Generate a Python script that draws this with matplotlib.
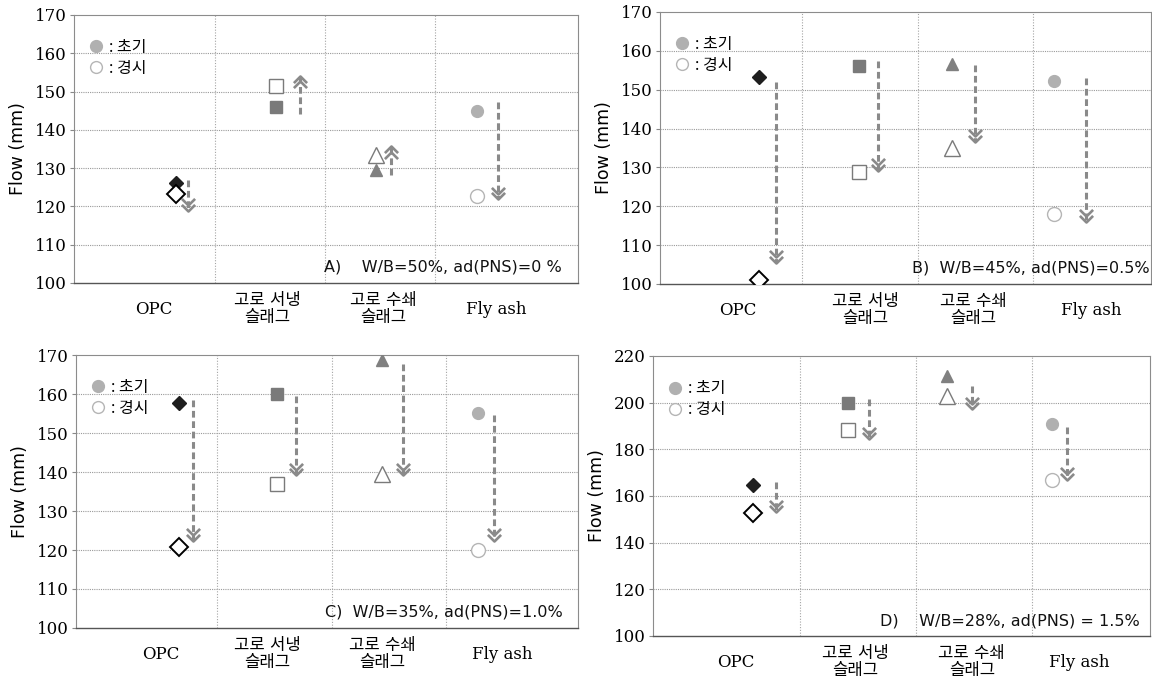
import matplotlib
matplotlib.use("Agg")
import matplotlib.pyplot as plt
import matplotlib.transforms as mtransforms
from matplotlib.path import Path
from matplotlib.lines import Line2D

# ---- data ----
categories = ['OPC', '고로 서냉\n슬래그', '고로 수쇄\n슬래그', 'Fly ash']
legend_labels = [': 초기', ': 경시']

initial_A = [126.0, 146.0, 129.6, 144.8]
elapsed_A = [123.2, 151.5, 133.5, 122.6]
arrow_from_A = [127.0, 144.2, 128.3, 147.2]
arrow_to_A = [118.9, 154.1, 135.7, 121.9]

initial_B = [153.2, 156.1, 156.6, 152.2]
elapsed_B = [100.9, 128.8, 135.0, 118.1]
arrow_from_B = [152.0, 157.3, 156.4, 153.0]
arrow_to_B = [105.5, 129.2, 136.6, 116.0]

initial_C = [157.8, 160.1, 168.7, 155.1]
elapsed_C = [120.8, 136.9, 139.4, 120.0]
arrow_from_C = [158.6, 159.5, 167.7, 154.6]
arrow_to_C = [122.3, 139.2, 139.2, 122.3]

initial_D = [164.8, 199.8, 211.4, 190.8]
elapsed_D = [152.6, 188.3, 203.0, 167.0]
arrow_from_D = [166.2, 201.6, 207.3, 189.7]
arrow_to_D = [153.0, 184.3, 197.2, 167.0]

conditions = ['A)    W/B=50%, ad(PNS)=0 %',
              'B)  W/B=45%, ad(PNS)=0.5%',
              'C)  W/B=35%, ad(PNS)=1.0%',
              'D)    W/B=28%, ad(PNS) = 1.5%']
y_ranges = [(100, 170, 10), (100, 170, 10), (100, 170, 10), (100, 220, 20)]

# ---- layout ----
rects = [[0.0642, 0.5863, 0.4375, 0.3918],
         [0.5729, 0.5848, 0.4262, 0.3977],
         [0.0660, 0.0819, 0.4358, 0.3990],
         [0.5668, 0.0702, 0.4314, 0.4094]]
xlims = [(0.227, 4.79), (0.27, 4.52), (0.27, 4.65), (0.24, 4.51)]
marker_xs = [[1.15, 2.06, 2.96, 3.88], [1.13, 1.99, 2.80, 3.68],
             [1.17, 2.02, 2.94, 3.78], [1.10, 1.92, 2.77, 3.67]]
arrow_xs = [[1.26, 2.27, 3.10, 4.07], [1.27, 2.16, 3.00, 3.96],
            [1.29, 2.19, 3.12, 3.92], [1.30, 2.10, 2.98, 3.80]]
tick_xs = [[0.95, 1.98, 3.03, 4.05], [0.94, 2.05, 2.98, 4.00],
           [1.01, 1.94, 2.94, 3.99], [0.95, 1.98, 2.98, 3.90]]
text_pos = [(0.967, 0.061), (0.997, 0.06), (0.97, 0.06), (0.98, 0.053)]

markers = ['D', 's', '^', 'o']
fill_colors = ['#1e1e1e', '#7a7a7a', '#808080', '#b0b0b0']
edge_colors = ['#000000', '#7a7a7a', '#7a7a7a', '#b5b5b5']
fill_sizes = [7, 8, 8.5, 8.5]
open_sizes = [9, 10, 11, 10]
arrow_color = '#8a8a8a'

chev_down = Path([(-1, 1), (0, 0), (1, 1)], [Path.MOVETO, Path.LINETO, Path.LINETO])
chev_up = Path([(-1, -1), (0, 0), (1, -1)], [Path.MOVETO, Path.LINETO, Path.LINETO])

initials = [initial_A, initial_B, initial_C, initial_D]
elapseds = [elapsed_A, elapsed_B, elapsed_C, elapsed_D]
arrow_froms = [arrow_from_A, arrow_from_B, arrow_from_C, arrow_from_D]
arrow_tos = [arrow_to_A, arrow_to_B, arrow_to_C, arrow_to_D]

fig = plt.figure(figsize=(11.52, 6.84), dpi=100)
fig.patch.set_facecolor('white')

for p in range(4):
    ax = fig.add_axes(rects[p])
    lo, hi, step = y_ranges[p]
    ax.set_ylim(lo, hi)
    ax.set_xlim(*xlims[p])
    ax.set_yticks(range(lo, hi + 1, step))
    ax.set_xticks([])
    ax.tick_params(axis='y', length=3, color='#888888', pad=2)
    for lab in ax.get_yticklabels():
        lab.set_fontfamily('DejaVu Serif')
        lab.set_fontsize(12)
    for s in ax.spines.values():
        s.set_color('#8c8c8c')
        s.set_linewidth(0.8)
    ax.spines['bottom'].set_color('#555555')
    ax.spines['bottom'].set_linewidth(1.0)

    for yv in range(lo + step, hi, step):
        ax.axhline(yv, color='#9a9a9a', lw=0.8, ls=(0, (1, 1)), zorder=0)
    for xv in [1.5, 2.5, 3.5]:
        ax.axvline(xv, color='#a5a5a5', lw=0.8, ls=(0, (1, 1.5)), zorder=0)

    ax.set_ylabel('Flow (mm)', fontsize=12.5, fontfamily='DejaVu Sans', labelpad=6)

    for i in range(4):
        mx = marker_xs[p][i]
        ax.plot(mx, initials[p][i], marker=markers[i], ms=fill_sizes[i],
                mfc=fill_colors[i], mec=fill_colors[i], ls='none', zorder=4)
        ax.plot(mx, elapseds[p][i], marker=markers[i], ms=open_sizes[i],
                mfc='white', mec=edge_colors[i], mew=1.4 if i == 0 else 1.0,
                ls='none', zorder=4)
        # dashed arrow with double chevron head
        axx = arrow_xs[p][i]
        y0, y1 = arrow_froms[p][i], arrow_tos[p][i]
        ax.plot([axx, axx], [y0, y1], color=arrow_color, lw=2.2,
                ls=(0, (2.2, 1.2)), zorder=3)
        down = y1 < y0
        shape = chev_down if down else chev_up
        sign = 1 if down else -1
        for k in (0, 4):
            tr = mtransforms.offset_copy(ax.transData, fig=fig, y=sign * k, units='points')
            ax.plot(axx, y1, marker=shape, ms=9.5, mfc='none', mec=arrow_color,
                    mew=1.9, ls='none', transform=tr, zorder=3)

    for i in range(4):
        ax.annotate(categories[i], xy=(tick_xs[p][i], 0),
                    xycoords=ax.get_xaxis_transform(), xytext=(0, -19),
                    textcoords='offset points', ha='center', va='center',
                    fontsize=12, linespacing=1.0,
                    family=['DejaVu Serif', 'Noto Sans CJK KR'],
                    annotation_clip=False)

    handles = [Line2D([], [], marker='o', ls='none', ms=8.5, mfc='#b0b0b0', mec='#b0b0b0'),
               Line2D([], [], marker='o', ls='none', ms=8.5, mfc='white', mec='#b5b5b5')]
    ax.legend(handles, legend_labels, loc='upper left', bbox_to_anchor=(0.0, 0.965),
              frameon=False, handlelength=1.0, handletextpad=0.3, labelspacing=0.25,
              borderaxespad=0.5, prop={'family': 'Noto Sans CJK KR', 'size': 11.5})

    ax.text(text_pos[p][0], text_pos[p][1], conditions[p], transform=ax.transAxes,
            ha='right', va='center', fontsize=11.5, fontfamily='DejaVu Sans',
            color='#111111', zorder=5)

fig.savefig('out.png', dpi=100, facecolor='white')
